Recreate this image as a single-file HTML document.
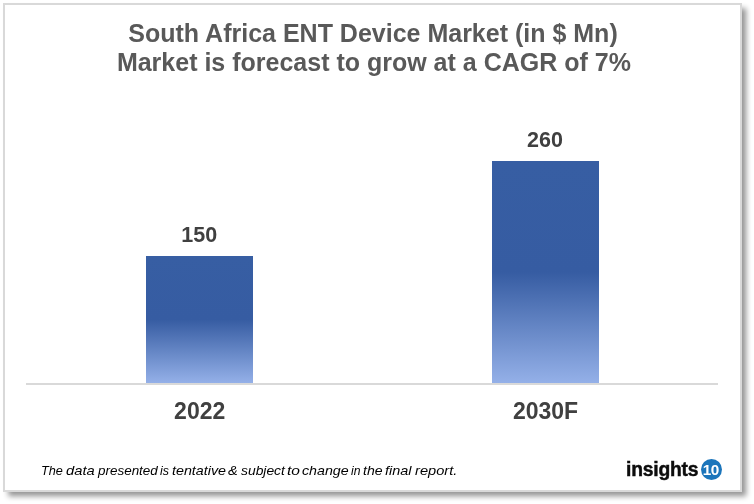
<!DOCTYPE html>
<html>
<head>
<meta charset="utf-8">
<title>South Africa ENT Device Market</title>
<style>
html,body{margin:0;padding:0;background:#fff;}
body{width:754px;height:504px;position:relative;overflow:hidden;font-family:"Liberation Sans",Arial,sans-serif;}
.frame{position:absolute;left:3px;top:3px;width:735px;height:485px;border:2px solid #d9d9d9;background:#fff;box-shadow:4.5px 4.5px 5.5px rgba(0,0,0,0.42);}
.title{position:absolute;left:0;top:19.1px;width:746px;text-align:center;font-weight:bold;font-size:25px;line-height:28.6px;color:#595959;white-space:nowrap;}
.bar{position:absolute;background:linear-gradient(to bottom,#375ea3 0%,#365ca2 50%,#94b0e8 100%);}
.b1{left:145.5px;top:255.6px;width:107.7px;height:127.4px;}
.b2{left:491.5px;top:160.6px;width:107.7px;height:222.4px;}
.axis{position:absolute;left:26px;top:383px;width:692px;height:2px;background:#d9d9d9;}
.val{position:absolute;width:120px;text-align:center;font-weight:bold;font-size:21.5px;line-height:24px;color:#404040;}
.cat{position:absolute;width:140px;text-align:center;font-weight:bold;font-size:23px;line-height:26px;color:#404040;}
.note{position:absolute;left:42px;top:462px;width:430px;height:20px;font-style:italic;font-size:13.3px;line-height:18px;color:#000;white-space:nowrap;}
.note span{position:absolute;top:0;transform-origin:0 0;}
.logo{position:absolute;left:626px;top:457.6px;font-weight:bold;font-size:19.3px;line-height:24px;color:#0c0c0c;-webkit-text-stroke:0.45px #0c0c0c;letter-spacing:-0.2px;white-space:nowrap;}
.ten{position:absolute;left:700.7px;top:459.1px;width:21.1px;height:21.1px;border-radius:50%;background:#1b75bb;color:#fff;font-weight:bold;font-size:15.3px;line-height:22.8px;text-align:center;letter-spacing:-0.5px;text-indent:-0.8px;}
</style>
</head>
<body>
<div class="frame"></div>
<div class="title">South Africa ENT Device Market (in $ Mn)<br><span style="position:relative;left:0.9px">Market is forecast to grow at a CAGR of 7%</span></div>
<div class="bar b1"></div>
<div class="bar b2"></div>
<div class="axis"></div>
<div class="val" style="left:139.3px;top:223px;">150</div>
<div class="val" style="left:485px;top:128px;">260</div>
<div class="cat" style="left:129.7px;top:398.4px;">2022</div>
<div class="cat" style="left:475.5px;top:398.4px;">2030F</div>
<div class="note"><span style="left:-1.19px;transform:scaleX(0.955)">The </span><span style="left:23.95px;transform:scaleX(1.108)">data </span><span style="left:55.65px;transform:scaleX(1.011)">presented </span><span style="left:118.17px;transform:scaleX(0.933)">is </span><span style="left:129.76px;transform:scaleX(1.074)">tentative </span><span style="left:186.22px;transform:scaleX(1.100)">&amp; </span><span style="left:198.70px;transform:scaleX(1.042)">subject </span><span style="left:245.01px;transform:scaleX(1.171)">to </span><span style="left:259.97px;transform:scaleX(1.069)">change </span><span style="left:308.97px;transform:scaleX(0.916)">in </span><span style="left:321.07px;transform:scaleX(1.057)">the </span><span style="left:342.96px;transform:scaleX(1.085)">final </span><span style="left:373.02px;transform:scaleX(1.101)">report.</span></div>
<div class="logo">insights</div>
<div class="ten">10</div>
</body>
</html>
